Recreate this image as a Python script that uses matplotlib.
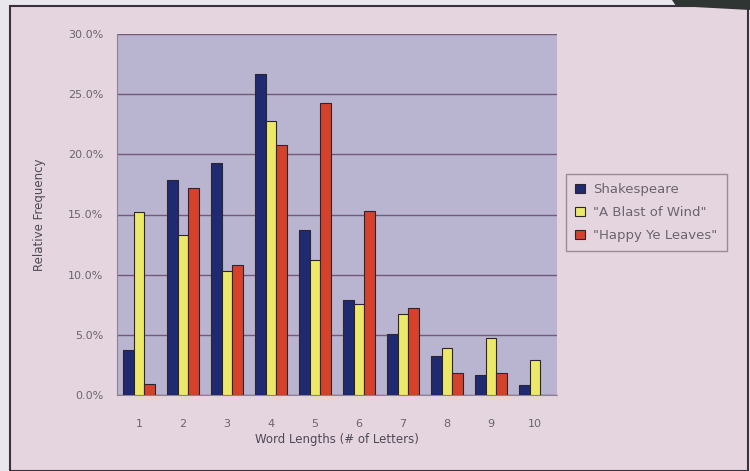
import matplotlib
matplotlib.use("Agg")
import matplotlib.pyplot as plt
from matplotlib.patches import Rectangle, Polygon
import numpy as np

# Data
lengths = [1, 2, 3, 4, 5, 6, 7, 8, 9, 10]
shakespeare = [3.7, 17.9, 19.3, 26.7, 13.75, 7.9, 5.1, 3.2, 1.7, 0.8]
blast_of_wind = [15.2, 13.3, 10.3, 22.75, 11.25, 7.6, 6.7, 3.9, 4.75, 2.9]
happy_ye_leaves = [0.9, 17.2, 10.8, 20.75, 24.25, 15.3, 7.25, 1.8, 1.8, 0.0]
series_names = ['Shakespeare', '"A Blast of Wind"', '"Happy Ye Leaves"']

# Colors
bg_outer = '#e9e7ee'
bg_pink = '#e4d5de'
plot_bg = '#b9b5d0'
grid_color = '#75587a'
text_color = '#6a6470'
colors = ['#1f2a70', '#ece86a', '#d6412b']

fig = plt.figure(figsize=(7.5, 4.71), dpi=100)
fig.patch.set_facecolor(bg_outer)

# framed pink panel
fig.patches.append(Rectangle((10/750, 0), 738/750, 1 - 6/471, transform=fig.transFigure,
                             facecolor=bg_pink, edgecolor='#3a3040', linewidth=1.5, zorder=-2))
# dark corner at top right
fig.patches.append(Polygon([(672/750, 1), (1, 1), (1, 1 - 10/471), (676/750, 1 - 6/471)],
                           closed=True, transform=fig.transFigure,
                           facecolor='#2e3533', edgecolor='none', zorder=-1))

ax = fig.add_axes([117/750, 76/471, 440/750, 361/471])
ax.set_zorder(2)
ax.set_facecolor(plot_bg)

x = np.arange(len(lengths))
w = 0.235
for i, (vals, c, name) in enumerate(zip([shakespeare, blast_of_wind, happy_ye_leaves], colors, series_names)):
    ax.bar(x + (i - 1) * w, vals, width=w, color=c, edgecolor='#2a2530', linewidth=0.8,
           label=name, zorder=3)

ax.set_xlim(-0.5, len(lengths) - 0.5)
ax.set_ylim(0, 30)
ax.set_yticks(np.arange(0, 31, 5))
ax.set_yticklabels([f'{v:.1f}%' for v in np.arange(0, 31, 5)])
ax.set_xticks(x)
ax.set_xticklabels([str(v) for v in lengths])
ax.yaxis.grid(True, color=grid_color, linewidth=1.0, zorder=1)
ax.tick_params(axis='y', length=0, colors=text_color, labelsize=8, pad=10)
ax.tick_params(axis='x', length=0, colors=text_color, labelsize=8, pad=17)
for s in ['top', 'right']:
    ax.spines[s].set_visible(False)
for s in ['left', 'bottom']:
    ax.spines[s].set_color('#8a8299')

ax.set_xlabel('Word Lengths (# of Letters)', fontsize=8.5, color='#4e4858', labelpad=3)
ax.set_ylabel('Relative Frequency', fontsize=8.5, color='#4e4858', labelpad=16)

leg = fig.legend(loc='upper left', bbox_to_anchor=(566/750, 1 - 174/471), fontsize=9.5,
                 frameon=True, fancybox=False, handlelength=0.75, handleheight=0.75,
                 handletextpad=0.6, borderpad=0.7, labelspacing=0.75, borderaxespad=0)
leg.set_zorder(3)
leg.get_frame().set_facecolor(bg_pink)
leg.get_frame().set_edgecolor('#8a7a88')
for t in leg.get_texts():
    t.set_color(text_color)

fig.savefig('out.png', dpi=100, facecolor=fig.get_facecolor())
